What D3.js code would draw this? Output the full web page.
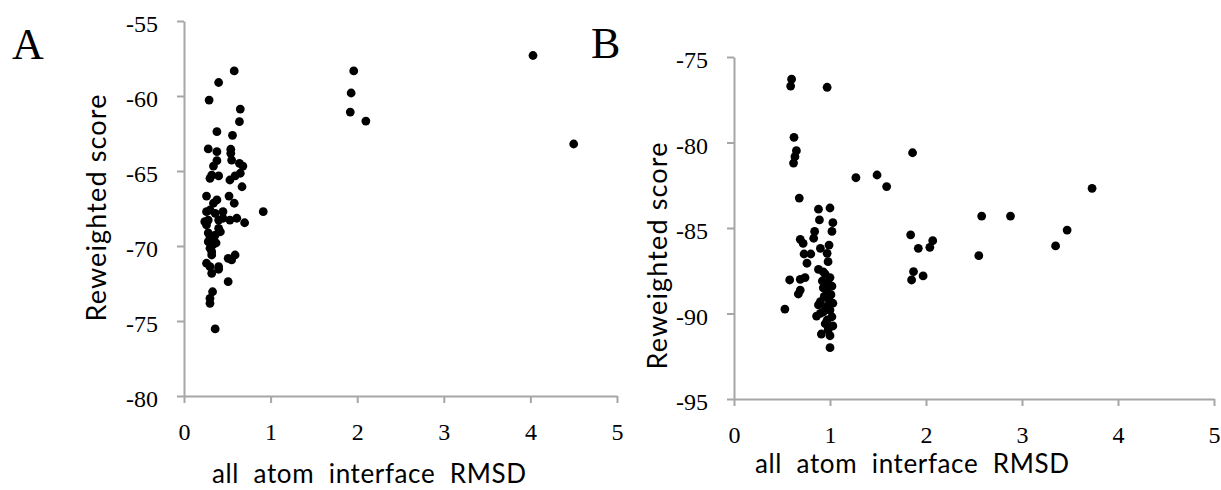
<!DOCTYPE html>
<html><head><meta charset="utf-8">
<script src="https://cdn.jsdelivr.net/npm/d3@7"></script>
<style>
body{margin:0;background:#fff;}
svg text{white-space:pre;}
</style>
</head><body>
<svg id="chart" width="1221" height="490"></svg>
<script>
// Panel A data: [RMSD, reweighted score]
const pointsA = [
[0.58,-58.33],[0.40,-59.1],[0.29,-60.27],[0.65,-60.87],[0.64,-61.71],[0.38,-62.38],[0.56,-62.62],
[0.28,-63.53],[0.38,-63.71],[0.54,-63.55],[0.54,-63.82],[0.38,-64.31],[0.34,-64.67],[0.55,-64.27],
[0.64,-64.49],[0.68,-64.67],[0.32,-65.27],[0.40,-65.33],[0.30,-65.49],[0.65,-65.15],[0.59,-65.33],
[0.53,-65.6],[0.67,-66.05],[0.26,-66.67],[0.38,-66.93],[0.34,-67.15],[0.52,-66.67],[0.58,-67.15],
[0.915,-67.71],[0.26,-67.71],[0.30,-67.6],[0.28,-68.27],[0.36,-67.82],[0.45,-67.71],[0.40,-68.27],
[0.45,-68.15],[0.53,-68.27],[0.61,-68.15],[0.70,-68.45],[0.24,-68.38],[0.26,-68.6],[0.40,-68.82],
[0.42,-69.05],[0.30,-69.38],[0.28,-69.71],[0.34,-69.6],[0.30,-70.15],[0.32,-70.38],[0.32,-70.6],
[0.51,-70.82],[0.59,-70.6],[0.55,-70.93],[0.26,-71.15],[0.30,-71.38],[0.40,-71.38],[0.40,-71.55],
[0.32,-71.82],[0.51,-72.38],[0.33,-73.05],[0.30,-73.49],[0.30,-73.82],[0.36,-75.53],
[0.36,-69.27],[0.33,-69.93],[0.28,-69.13],[0.37,-69.8],
[1.96,-58.33],[1.93,-59.8],[1.92,-61.07],[2.10,-61.67],[4.03,-57.3],[4.50,-63.2]
];
// Panel B data
const pointsB = [
[0.60,-76.3],[0.59,-76.7],[0.97,-76.77],[0.625,-79.7],[0.65,-80.48],[0.635,-80.83],[0.62,-81.2],
[0.68,-83.25],[0.88,-83.9],[1.0,-83.83],[0.89,-84.53],[1.03,-84.69],[1.02,-85.2],[0.84,-85.2],
[0.83,-85.6],[0.69,-85.66],[0.72,-85.9],[0.9,-86.19],[0.99,-86.0],[0.73,-86.52],[0.80,-86.52],
[0.76,-87.06],[0.97,-86.48],[0.98,-86.97],[0.88,-87.42],[0.93,-87.56],[0.58,-88.04],[0.69,-88.0],
[0.74,-87.9],[0.69,-88.63],[0.67,-88.86],[0.53,-89.74],[0.88,-89.5],[0.9,-89.99],[0.86,-90.15],
[1.0,-89.8],[1.02,-90.19],[0.97,-90.38],[1.03,-90.73],[0.98,-90.96],[0.91,-91.2],[1.0,-91.3],
[1.0,-92.0],
[0.95,-87.7],[1.0,-87.9],[0.92,-88.1],[0.98,-88.2],[1.02,-88.4],[0.93,-88.5],[0.97,-88.7],
[1.01,-88.9],[0.94,-89.0],[0.99,-89.2],[1.03,-89.4],[0.9,-89.3],[0.96,-89.6],[0.95,-90.6],[0.93,-89.9],
[1.86,-80.6],[1.27,-82.06],[1.49,-81.9],[1.59,-82.58],[3.73,-82.68],[2.58,-84.3],[2.88,-84.3],
[3.47,-85.12],[3.35,-86.05],[1.84,-85.4],[2.07,-85.74],[2.04,-86.13],[1.92,-86.19],[2.55,-86.62],
[1.87,-87.55],[1.97,-87.8],[1.85,-88.04]
];
const xTicks = [0,1,2,3,4,5];
const yTicksA = [-80,-75,-70,-65,-60,-55];
const yTicksB = [-95,-90,-85,-80,-75];
const xTitle = "all  atom  interface  RMSD";
const yTitle = "Reweighted score";
const panelLabels = ["A","B"];

const svg = d3.select("#chart");
const axisColor = "#a6a6a6";
const tickFont = "Liberation Serif, serif";
const titleFont = "Lato, Open Sans, sans-serif";

const panels = [
  {data: pointsA, yTicks: yTicksA, x: d3.scaleLinear([0,5],[184,617]), y: d3.scaleLinear([-80,-55],[396,21]),
   label: panelLabels[0], labelPos:[12,59], xTitlePos:[369,483], yTitlePos:[106,208]},
  {data: pointsB, yTicks: yTicksB, x: d3.scaleLinear([0,5],[734,1214]), y: d3.scaleLinear([-95,-75],[399,57]),
   label: panelLabels[1], labelPos:[591,58], xTitlePos:[912,473], yTitlePos:[667,256]}
];

panels.forEach(p => {
  const g = svg.append("g");
  const [y0] = p.y.range();
  const x0 = p.x.range()[0];
  const ya = g.append("g").attr("transform",`translate(${x0},0)`)
    .call(d3.axisLeft(p.y).tickValues(p.yTicks).tickSize(7).tickSizeOuter(0).tickPadding(19).tickFormat(d=>String(d)));
  const xa = g.append("g").attr("transform",`translate(0,${y0})`)
    .call(d3.axisBottom(p.x).tickValues(xTicks).tickSize(7).tickSizeOuter(0).tickPadding(20).tickFormat(d=>String(d)));
  [ya,xa].forEach(a=>{
    a.selectAll("path,line").attr("stroke",axisColor).attr("stroke-width",2);
    a.selectAll("text").attr("font-family",tickFont).attr("font-size",24).attr("fill","#000");
  });
  ya.selectAll("text").attr("dy","0.45em");
  g.append("g").selectAll("circle").data(p.data).join("circle")
    .attr("cx",d=>p.x(d[0])).attr("cy",d=>p.y(d[1])).attr("r",4.4).attr("fill","#000");
  g.append("text").attr("x", p.xTitlePos[0]).attr("y", p.xTitlePos[1])
    .attr("text-anchor","middle").attr("font-family",titleFont).attr("font-size",26)
    .attr("textLength",314).attr("lengthAdjust","spacing").text(xTitle);
  g.append("text").attr("transform",`translate(${p.yTitlePos[0]},${p.yTitlePos[1]})rotate(-90)`)
    .attr("text-anchor","middle").attr("font-family",titleFont).attr("font-size",27)
    .attr("textLength",227).attr("lengthAdjust","spacing").text(yTitle);
  g.append("text").attr("x",p.labelPos[0]).attr("y",p.labelPos[1])
    .attr("font-family",tickFont).attr("font-size",44).text(p.label);
});
</script>
</body></html>
